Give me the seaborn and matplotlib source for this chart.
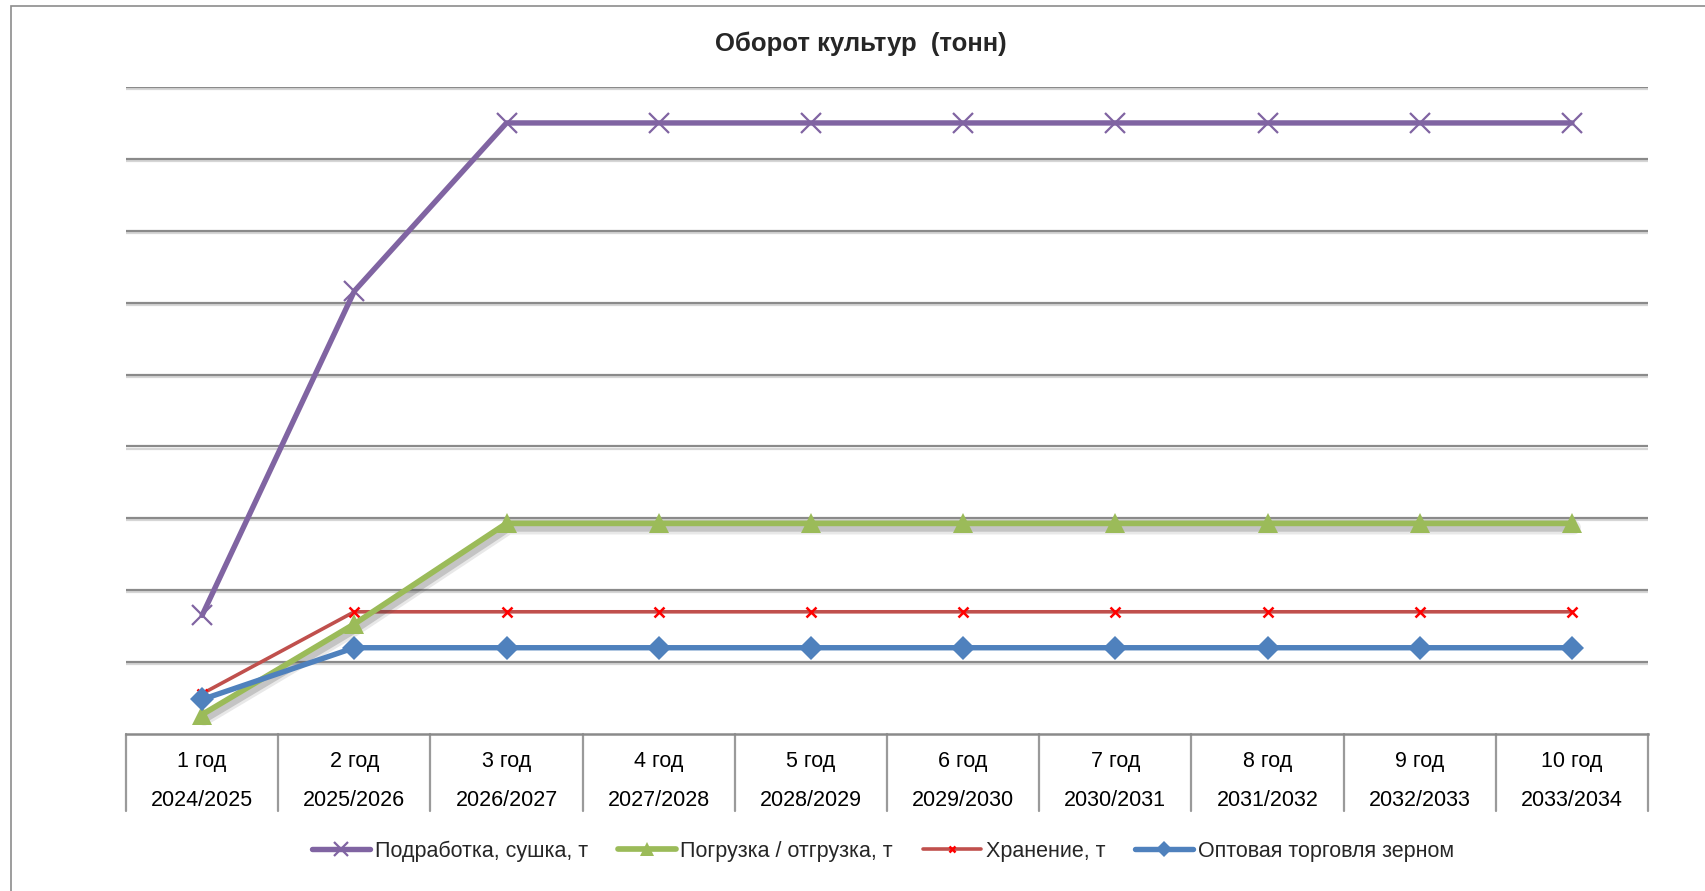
import numpy as np
import pandas as pd
import matplotlib
matplotlib.use("Agg")
import matplotlib.pyplot as plt
import matplotlib.patheffects as pe
import matplotlib.transforms as mtransforms
from matplotlib.patches import Rectangle
import seaborn as sns

# ---------------- data ----------------
year_labels = ["1 год", "2 год", "3 год", "4 год", "5 год", "6 год", "7 год", "8 год", "9 год", "10 год"]
period_labels = ["2024/2025", "2025/2026", "2026/2027", "2027/2028", "2028/2029",
                 "2029/2030", "2030/2031", "2031/2032", "2032/2033", "2033/2034"]
podrabotka = [16500, 61600, 85000, 85000, 85000, 85000, 85000, 85000, 85000, 85000]
pogruzka = [2700, 15300, 29300, 29300, 29300, 29300, 29300, 29300, 29300, 29300]
hranenie = [5600, 17000, 17000, 17000, 17000, 17000, 17000, 17000, 17000, 17000]
optovaya = [4800, 12000, 12000, 12000, 12000, 12000, 12000, 12000, 12000, 12000]
series_names = ["Подработка, сушка, т", "Погрузка / отгрузка, т", "Хранение, т", "Оптовая торговля зерном"]
title_text = "Оборот культур  (тонн)"
y_step = 10000
y_max = 90000

# ---------------- style ----------------
sns.set_theme(style="white")
plt.rcParams['font.family'] = ['Liberation Sans', 'DejaVu Sans']

fig = plt.figure(figsize=(17.05, 8.91), dpi=100)
ax = fig.add_axes([126/1705, 1-734/891, (1648-126)/1705, (734-87)/891])

x_pos = np.arange(len(year_labels))
df = pd.DataFrame({"x": x_pos, "p": podrabotka, "g": pogruzka, "h": hranenie, "o": optovaya})

# gridlines
for yv in np.arange(y_step, y_max + 1, y_step):
    ax.axhline(yv, color="#8a8a8a", lw=1.6, zorder=1,
               path_effects=[pe.SimpleLineShadow(offset=(0, -1.5), shadow_color="#cccccc", alpha=0.8),
                             pe.Normal()])

sns.lineplot(data=df, x="x", y="p", ax=ax, color="#8064A2", lw=3.9, marker="x",
             markersize=15, markeredgewidth=1.6, markeredgecolor="#8064A2", label=series_names[0], zorder=3)
sns.lineplot(data=df, x="x", y="h", ax=ax, color="#C0504D", lw=2.6, marker="x",
             markersize=6.5, markeredgewidth=1.8, markeredgecolor="#FF0000", label=series_names[2], zorder=4)
# soft shadow under the green line (shadow only, no markers)
ax.plot(x_pos, pogruzka, color="#9BBB59", lw=4.1, zorder=4.5,
        path_effects=[pe.SimpleLineShadow(offset=(1.5, -3), shadow_color="#444444", alpha=0.12, linewidth=10),
                      pe.SimpleLineShadow(offset=(1.5, -3), shadow_color="#444444", alpha=0.22, linewidth=6)])
sns.lineplot(data=df, x="x", y="g", ax=ax, color="#9BBB59", lw=4.1, marker="^",
             markersize=15, markeredgewidth=0, markerfacecolor="#9BBB59", label=series_names[1], zorder=5)
sns.lineplot(data=df, x="x", y="o", ax=ax, color="#4F81BD", lw=3.9, marker="D",
             markersize=12, markeredgewidth=0, markerfacecolor="#4F81BD", label=series_names[3], zorder=6)

ax.set_xlim(-0.5, len(year_labels) - 0.5)
ax.set_ylim(0, y_max)
ax.set_xlabel("")
ax.set_ylabel("")
ax.set_xticks([])
ax.set_yticks([])
for s in ["left", "right", "top"]:
    ax.spines[s].set_visible(False)
ax.spines["bottom"].set_color("#8a8a8a")
ax.spines["bottom"].set_linewidth(1.8)

# table-like category axis
trans = mtransforms.blended_transform_factory(ax.transData, ax.transAxes)
table_bottom = -(811-734)/647
for b in np.arange(-0.5, len(year_labels), 1.0):
    ax.plot([b, b], [0, table_bottom], color="#9a9a9a", lw=1.6, transform=trans, clip_on=False)
for xi, (yl, pl) in enumerate(zip(year_labels, period_labels)):
    ax.text(xi, -(762-734)/647, yl, transform=trans, ha="center", va="center", fontsize=15.5, color="black")
    ax.text(xi, -(801-734)/647, pl, transform=trans, ha="center", va="center", fontsize=15.5, color="black")

# title
fig.text(861/1705, 1-44/891, title_text, ha="center", va="center", fontsize=18.5, fontweight="bold")

# legend
if ax.get_legend():
    ax.get_legend().remove()
hdict = {ln.get_label(): ln for ln in ax.get_lines() if ln.get_label() in series_names}
handles = [hdict[n] for n in series_names]
leg = fig.legend(handles, series_names, loc="center", bbox_to_anchor=(883/1705, 1-851/891),
                 ncol=4, frameon=False, fontsize=15.5, handlelength=2.7, handletextpad=0.2,
                 columnspacing=1.4, markerscale=0.7)

# outer border
fig.patches.append(Rectangle((11/1705, -0.05), 1.2, 1-6/891+0.05, transform=fig.transFigure,
                             fill=False, edgecolor="#8c8c8c", lw=1.2))

fig.savefig("out.png", dpi=100)
